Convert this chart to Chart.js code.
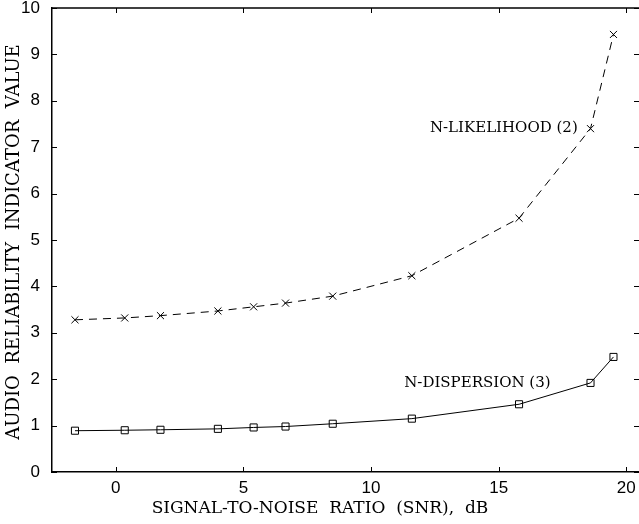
<!DOCTYPE html>
<html>
<head>
<meta charset="utf-8">
<script src="https://cdn.jsdelivr.net/npm/chart.js@4"></script>
<style>
  html, body { margin: 0; padding: 0; background: #fff; }
  #wrap { width: 639px; height: 524px; }
</style>
</head>
<body>
<div id="wrap"><canvas id="chart" width="639" height="524"></canvas></div>
<script>
// SNR values (dB) shared by both curves
const snr = [-1.6, 0.35, 1.75, 4.0, 5.4, 6.65, 8.5, 11.6, 15.8, 18.6, 19.5];
// N-likelihood (2) indicator values
const likelihood = [3.28, 3.32, 3.37, 3.47, 3.56, 3.64, 3.79, 4.23, 5.47, 7.40, 9.43];
// N-dispersion (3) indicator values
const dispersion = [0.89, 0.90, 0.91, 0.93, 0.96, 0.98, 1.04, 1.15, 1.46, 1.92, 2.48];

const xTicks = [0, 5, 10, 15, 20];
const yTicks = [0, 1, 2, 3, 4, 5, 6, 7, 8, 9, 10];

const xTitle = 'SIGNAL-TO-NOISE  RATIO  (SNR),  dB';
const yTitle = 'AUDIO  RELIABILITY  INDICATOR  VALUE';

const serif = '"DejaVu Serif", "Liberation Serif", serif';
const sans = '"Liberation Sans", Arial, sans-serif';

// curve labels, anchored in data units
const curveLabels = [
  { text: 'N-LIKELIHOOD (2)', x: 18.1, y: 7.41, align: 'right' },
  { text: 'N-DISPERSION (3)', x: 11.3, y: 1.91, align: 'left' },
];

// inward tick marks on all four sides, plus frame and text
const decor = {
  id: 'decor',
  afterDraw(chart) {
    const { ctx, chartArea: a, scales: { x, y } } = chart;
    const len = 5;
    ctx.save();
    ctx.strokeStyle = '#000';
    ctx.lineWidth = 1;
    ctx.beginPath();
    xTicks.forEach(v => {
      const px = Math.round(x.getPixelForValue(v)) + 0.5;
      ctx.moveTo(px, a.bottom); ctx.lineTo(px, a.bottom - len);
      ctx.moveTo(px, a.top); ctx.lineTo(px, a.top + len);
    });
    yTicks.forEach(v => {
      const py = Math.round(y.getPixelForValue(v)) + 0.5;
      ctx.moveTo(a.left, py); ctx.lineTo(a.left + len, py);
      ctx.moveTo(a.right, py); ctx.lineTo(a.right - len, py);
    });
    ctx.stroke();

    // top frame line
    ctx.lineWidth = 1.5;
    ctx.beginPath();
    ctx.moveTo(a.left, a.top);
    ctx.lineTo(a.right, a.top);
    ctx.stroke();

    // curve labels
    ctx.fillStyle = '#000';
    ctx.font = '15px ' + serif;
    ctx.textBaseline = 'middle';
    curveLabels.forEach(l => {
      ctx.textAlign = l.align;
      ctx.fillText(l.text, x.getPixelForValue(l.x), y.getPixelForValue(l.y));
    });

    // axis titles
    ctx.textAlign = 'center';
    ctx.font = '17px ' + serif;
    ctx.fillText(xTitle, 320, 509);
    ctx.save();
    ctx.font = '18px ' + serif;
    ctx.translate(14, (a.top + a.bottom) / 2 + 2);
    ctx.rotate(-Math.PI / 2);
    ctx.fillText(yTitle, 0, 0);
    ctx.restore();
    ctx.restore();
  }
};

new Chart(document.getElementById('chart'), {
  type: 'line',
  data: {
    datasets: [
      {
        label: 'N-LIKELIHOOD (2)',
        data: snr.map((s, i) => ({ x: s, y: likelihood[i] })),
        borderColor: '#000',
        borderWidth: 1,
        borderDash: [8, 6],
        pointStyle: 'crossRot',
        pointRadius: 5,
        pointBorderColor: '#000',
        pointBorderWidth: 1,
        tension: 0,
      },
      {
        label: 'N-DISPERSION (3)',
        data: snr.map((s, i) => ({ x: s, y: dispersion[i] })),
        borderColor: '#000',
        borderWidth: 1,
        pointStyle: 'rect',
        pointRadius: 5,
        pointBackgroundColor: 'rgba(0,0,0,0)',
        pointBorderColor: '#000',
        pointBorderWidth: 1,
        tension: 0,
      },
    ],
  },
  options: {
    responsive: false,
    animation: false,
    layout: { autoPadding: false, padding: { top: 8, right: 0, left: 0, bottom: 0 } },
    plugins: {
      legend: { display: false },
      tooltip: { enabled: false },
    },
    scales: {
      x: {
        type: 'linear',
        min: -2.5,
        max: 20.5,
        grid: { display: false },
        border: { display: true, color: '#000', width: 1.5 },
        ticks: {
          includeBounds: false,
          color: '#000',
          padding: -2,
          font: { family: sans, size: 17 },
          maxRotation: 0,
        },
        afterBuildTicks: s => { s.ticks = xTicks.map(v => ({ value: v })); },
        afterFit: s => { s.height = 52; s.paddingLeft = 0; s.paddingRight = 0; },
      },
      y: {
        min: 0,
        max: 10,
        grid: { display: false },
        border: { display: true, color: '#000', width: 1.5 },
        ticks: {
          color: '#000',
          padding: 4,
          font: { family: sans, size: 17 },
        },
        afterBuildTicks: s => { s.ticks = yTicks.map(v => ({ value: v })); },
        afterFit: s => { s.width = 52; s.paddingTop = 0; s.paddingBottom = 0; },
      },
    },
  },
  plugins: [decor],
});
</script>
</body>
</html>
